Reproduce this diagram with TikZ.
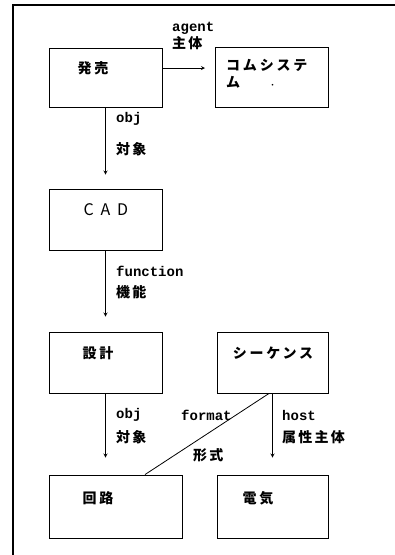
\documentclass[tikz,border=0pt]{standalone}
\usepackage{fontspec}
\newfontfamily\jp[LetterSpace=20]{Noto Sans CJK JP}
\newfontfamily\jplab[LetterSpace=16]{Noto Sans CJK JP}
\setmonofont{Liberation Mono}
\usetikzlibrary{calc,positioning,arrows}

\tikzset{
  box/.style={draw,line width=0.9pt,rectangle,inner sep=0pt},
  boxtext/.style={font=\jp\bfseries\fontsize{14}{17}\selectfont,align=left,inner sep=0pt},
  lab/.style={font=\ttfamily\bfseries\fontsize{14}{14}\selectfont,anchor=west,inner sep=0pt},
  jlab/.style={font=\jplab\bfseries\fontsize{14}{14}\selectfont,anchor=west,inner sep=0pt},
  rel/.style={->,>=stealth,line width=0.8pt}
}

\begin{document}
\begin{tikzpicture}[x=1pt,y=-1pt]
\useasboundingbox (0,0) rectangle (395,555);
% frame
\draw[line width=1.8pt] (13,555) -- (13,5) -- (395,5);

% boxes
\node[box,minimum width=113pt,minimum height=59pt] (hatsubai) at (105.5,77.5) {};
\node[box,minimum width=113pt,minimum height=60pt] (comsys) at (271.5,77) {};
\node[box,minimum width=113pt,minimum height=61pt] (cad) at (105.5,219.5) {};
\node[box,minimum width=113pt,minimum height=61pt] (sekkei) at (105.5,362.5) {};
\node[box,minimum width=111pt,minimum height=61pt] (seq) at (272.5,362.5) {};
\node[box,minimum width=133pt,minimum height=63pt] (kairo) at (115.5,506.5) {};
\node[box,minimum width=111pt,minimum height=63pt] (denki) at (272.5,506.5) {};

% box texts
\node[boxtext] (hatsubaiT) at (93,68) {発売};
\node[boxtext,anchor=north west] (comsysT) at (226,59) {コムシステ\\ム\hspace{2.1em}{\fontsize{6}{6}\selectfont ・}};
\node[boxtext,font=\jp\fontsize{16}{16}\selectfont] (cadT) at (106,210) {C A D};
\node[boxtext] (sekkeiT) at (98,353) {設計};
\node[boxtext] (seqT) at (273,353) {シーケンス};
\node[boxtext] (kairoT) at (98,498) {回路};
\node[boxtext] (denkiT) at (258,498) {電気};

% connectors
\coordinate (agentend) at (205,68);
\draw[rel] (hatsubai.east |- agentend) -- (agentend);
\draw[rel,shorten >=14pt] (hatsubai.south) -- (cad.north);
\draw[rel,shorten >=15pt] (cad.south) -- (sekkei.north);
\draw[rel,shorten >=17pt] (sekkei.south) -- (sekkei.south |- kairo.north);
\draw[rel,shorten >=17pt] (seq.south) -- (denki.north);
\draw[line width=0.8pt] ($(seq.south)+(-3.5,0)$) -- ($(kairo.north)+(29.5,0)$);

% labels
\node[lab] (agentL) at (172,28) {agent};
\node[jlab] (agentJ) at (172,43) {主体};
\node[lab] (obj1L) at (116,119) {obj};
\node[jlab] (obj1J) at (116,149) {対象};
\node[lab] (funcL) at (116,271) {function};
\node[jlab] (funcJ) at (116,292) {機能};
\node[lab] (obj2L) at (116,415) {obj};
\node[jlab] (obj2J) at (116,437) {対象};
\node[lab] (formatL) at (181,415) {format};
\node[jlab] (formatJ) at (193,455) {形式};
\node[lab] (hostL) at (282,415) {host};
\node[jlab] (hostJ) at (282,437) {属性主体};
\end{tikzpicture}
\end{document}
